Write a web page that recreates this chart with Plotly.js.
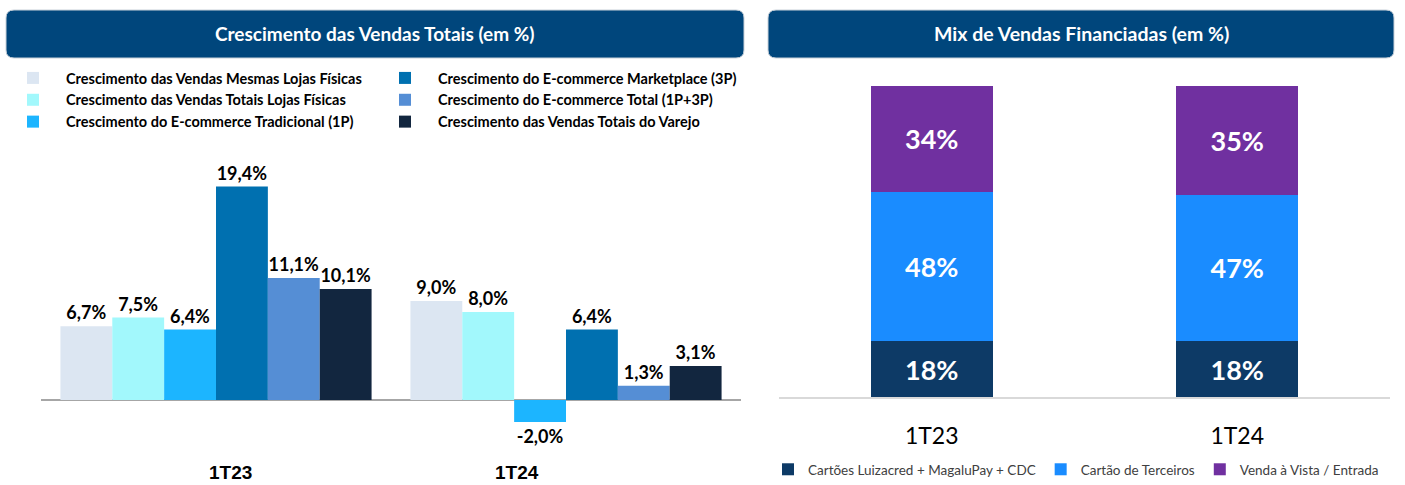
<!DOCTYPE html>
<html>
<head>
<meta charset="utf-8">
<script src="https://cdn.plot.ly/plotly-3.0.1.min.js"></script>
<style>
  html, body { margin: 0; padding: 0; background: #ffffff; }
  #growth { position: absolute; left: 0; top: 0; width: 760px; height: 485px; }
  #mix { position: absolute; left: 760px; top: 0; width: 645px; height: 485px; }
</style>
</head>
<body>
<div id="growth"></div>
<div id="mix"></div>
<script>
// Crescimento das Vendas Totais (em %)
const growthPeriods = ['1T23', '1T24'];
const growthNames = [
  'Crescimento das Vendas Mesmas Lojas Físicas',
  'Crescimento das Vendas Totais Lojas Físicas',
  'Crescimento do E-commerce Tradicional (1P)',
  'Crescimento do E-commerce Marketplace (3P)',
  'Crescimento do E-commerce Total (1P+3P)',
  'Crescimento das Vendas Totais do Varejo',
];
const mesmasLojas = [6.7, 9.0];
const totaisLojas = [7.5, 8.0];
const ecommerce1P = [6.4, -2.0];
const ecommerce3P = [19.4, 6.4];
const ecommerceTotal = [11.1, 1.3];
const varejoTotal = [10.1, 3.1];
const growthColors = ['#dce6f2', '#a2f8fc', '#1cb5ff', '#0070b0', '#558ed5', '#12263f'];

// Mix de Vendas Financiadas (em %)
const mixPeriods = ['1T23', '1T24'];
const mixNames = ['Cartões Luizacred + MagaluPay + CDC', 'Cartão de Terceiros', 'Venda à Vista / Entrada'];
const mixCartoes = [18, 18];
const mixTerceiros = [48, 47];
const mixAVista = [34, 35];
const mixColors = ['#0d3a66', '#1a8cff', '#7030a0'];

const TITLE_BLUE = '#00467c';
const CALIBRI = 'Lato, "Open Sans", sans-serif';
const NARROW = '"Liberation Sans Narrow", "Liberation Sans", Arial, sans-serif';

// pixel -> paper helpers for a div of size w x h
function helpers(w, h) {
  const px = x => x / w;
  const py = y => 1 - y / h;
  // rounded rectangle path for the title bar
  const roundRect = (x0, y0, x1, y1, r) =>
    `M${px(x0 + r)},${py(y0)} L${px(x1 - r)},${py(y0)} Q${px(x1)},${py(y0)} ${px(x1)},${py(y0 + r)} ` +
    `L${px(x1)},${py(y1 - r)} Q${px(x1)},${py(y1)} ${px(x1 - r)},${py(y1)} ` +
    `L${px(x0 + r)},${py(y1)} Q${px(x0)},${py(y1)} ${px(x0)},${py(y1 - r)} ` +
    `L${px(x0)},${py(y0 + r)} Q${px(x0)},${py(y0)} ${px(x0 + r)},${py(y0)} Z`;
  return [px, py, roundRect];
}

function growthChart() {
  const [px, py, roundRect] = helpers(760, 485);
  const series = [mesmasLojas, totaisLojas, ecommerce1P, ecommerce3P, ecommerceTotal, varejoTotal];
  const traces = series.map((values, i) => ({
    type: 'bar',
    name: growthNames[i],
    x: growthPeriods,
    y: values,
    marker: { color: growthColors[i] },
    texttemplate: '%{y:.1f}%',
    textposition: 'outside',
    cliponaxis: false,
    textfont: { family: CALIBRI, size: 18, weight: 'bold', color: '#000000' },
    legend: i < 3 ? 'legend' : 'legend2',
    hoverinfo: 'skip',
  }));

  // zero at y=400px, 11px per point
  const yTop = 130, yBottom = 460, zeroY = 400, perUnit = 11;
  const legendStyle = {
    xanchor: 'left', yanchor: 'top',
    bgcolor: 'rgba(0,0,0,0)',
    font: { family: CALIBRI, size: 14.5, weight: 'bold', color: '#000000' },
    traceorder: 'normal',
    itemwidth: 56,
  };

  // the period labels sit a little off the group centres in the original
  const periodLabelX = [0.04, 0.86];

  Plotly.newPlot('growth', traces, {
    width: 760, height: 485,
    margin: { l: 0, r: 0, t: 0, b: 0 },
    paper_bgcolor: '#ffffff', plot_bgcolor: 'rgba(0,0,0,0)',
    separators: ',.',
    barmode: 'group', bargap: 0.111, bargroupgap: 0,
    showlegend: true,
    legend: Object.assign({ x: px(0), y: py(62) }, legendStyle),
    legend2: Object.assign({ x: px(372), y: py(62) }, legendStyle),
    xaxis: {
      domain: [px(41), px(741)], range: [-0.5, 1.5],
      showgrid: false, showline: false, zeroline: false, ticks: '',
      showticklabels: false,
      fixedrange: true,
    },
    yaxis: {
      domain: [py(yBottom), py(yTop)],
      range: [-(yBottom - zeroY) / perUnit, (zeroY - yTop) / perUnit],
      showgrid: false, showticklabels: false, ticks: '',
      zeroline: true, zerolinecolor: '#a6a6a6', zerolinewidth: 1.5,
      fixedrange: true,
    },
    shapes: [{
      type: 'path', xref: 'paper', yref: 'paper',
      path: roundRect(6, 10, 744, 58, 8),
      fillcolor: TITLE_BLUE, line: { color: '#c9d1d9', width: 1 }, layer: 'below',
    }],
    annotations: [{
      xref: 'paper', yref: 'paper', x: px(375), y: py(34), yanchor: 'middle',
      text: 'Crescimento das Vendas Totais (em %)', showarrow: false,
      font: { family: CALIBRI, size: 19, weight: 'bold', color: '#ffffff' },
    }].concat(growthPeriods.map((p, i) => ({
      xref: 'x', yref: 'paper', x: periodLabelX[i], y: py(472), yanchor: 'middle',
      text: p, showarrow: false,
      font: { family: NARROW, size: 19, weight: 'bold', color: '#000000' },
    }))),
  }, { displayModeBar: false, staticPlot: true });
}

function mixChart() {
  const [px, py, roundRect] = helpers(645, 485);
  const stacks = [mixCartoes, mixTerceiros, mixAVista];
  const traces = stacks.map((values, i) => ({
    type: 'bar',
    name: mixNames[i],
    x: mixPeriods,
    y: values,
    marker: { color: mixColors[i] },
    texttemplate: '%{y:.0f}%',
    textposition: 'inside',
    insidetextanchor: 'middle',
    textangle: 0,
    textfont: { family: CALIBRI, size: 27, weight: 'bold', color: '#ffffff' },
    hoverinfo: 'skip',
  }));

  // zero at y=397px, 100% = 311px
  const yTop = 70, zeroY = 397, perUnit = 3.11;

  Plotly.newPlot('mix', traces, {
    width: 645, height: 485,
    margin: { l: 0, r: 0, t: 0, b: 0 },
    paper_bgcolor: '#ffffff', plot_bgcolor: 'rgba(0,0,0,0)',
    barmode: 'stack', bargap: 0.6,
    showlegend: true,
    legend: {
      orientation: 'h', x: px(8), y: 0, xanchor: 'left', yanchor: 'bottom',
      bgcolor: 'rgba(0,0,0,0)',
      font: { family: CALIBRI, size: 13.5, color: '#404040' },
      traceorder: 'normal', itemwidth: 30,
    },
    xaxis: {
      domain: [px(19), px(630)], range: [-0.5, 1.5],
      showgrid: false, zeroline: false, ticks: '',
      showline: true, linecolor: '#d9d9d9', linewidth: 1.5,
      tickfont: { family: CALIBRI, size: 23, color: '#000000' },
      ticklabelstandoff: 18,
      fixedrange: true,
    },
    yaxis: {
      domain: [py(zeroY), py(yTop)],
      range: [0, (zeroY - yTop) / perUnit],
      showgrid: false, showticklabels: false, ticks: '', zeroline: false,
      fixedrange: true,
    },
    shapes: [{
      type: 'path', xref: 'paper', yref: 'paper',
      path: roundRect(8, 10, 634, 58, 8),
      fillcolor: TITLE_BLUE, line: { color: '#c9d1d9', width: 1 }, layer: 'below',
    }],
    annotations: [{
      xref: 'paper', yref: 'paper', x: px(321), y: py(34), yanchor: 'middle',
      text: 'Mix de Vendas Financiadas (em %)', showarrow: false,
      font: { family: CALIBRI, size: 19.5, weight: 'bold', color: '#ffffff' },
    }],
  }, { displayModeBar: false, staticPlot: true });
}

growthChart();
mixChart();
</script>
</body>
</html>
